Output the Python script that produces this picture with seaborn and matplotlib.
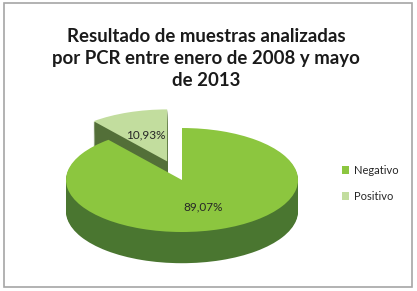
import numpy as np
import seaborn as sns
import matplotlib.pyplot as plt
from matplotlib.patches import Rectangle

# data
categories = ['Negativo', 'Positivo']
values = [89.07, 10.93]
title = 'Resultado de muestras analizadas\npor PCR entre enero de 2008 y mayo\nde 2013'

top_colors = ['#8cc63f', '#c2dd9e']
side_colors = ['#4a7630', '#536f38']

sns.set_theme(style='white')
plt.rcParams['font.family'] = ['Lato', 'DejaVu Sans']

fig = plt.figure(figsize=(4.17, 2.91), dpi=100)
fig.patch.set_facecolor('white')
fig.patches.append(Rectangle((0.01, 0.013), 0.978, 0.975, transform=fig.transFigure,
                             fill=False, edgecolor='#a6a6a6', linewidth=1.2))

ax = fig.add_axes([0.0748, 0.0419, 0.7233, 0.6254])
explode = [0, 0.38]
depth = 0.6
steps = 30

# side of the 3d pie: stacked copies shifted downwards
for k in np.linspace(depth, 0.02, steps):
    ax.pie(values, startangle=90, counterclock=False, explode=explode,
           colors=side_colors, center=(0, -k),
           wedgeprops={'linewidth': 0})

# top surface with labels
wedges, texts, autotexts = ax.pie(
    values, startangle=90, counterclock=False, explode=explode,
    colors=top_colors, autopct=lambda p: f'{p:.2f}%'.replace('.', ','),
    pctdistance=0.55, wedgeprops={'linewidth': 0},
    textprops={'fontsize': 8.5, 'color': '#262626'})

ax.set_aspect('auto')
ax.set_xlim(-1.3, 1.3)
ax.set_ylim(-1.9, 1.6)
ax.axis('off')

fig.text(0.495, 0.80, title, ha='center', va='center', fontsize=13.4,
         fontweight='bold', linespacing=1.35, color='#1a1a1a')

fig.legend(wedges, categories, loc='center left', bbox_to_anchor=(0.795, 0.37),
           frameon=False, fontsize=8, handlelength=0.7, handleheight=0.7,
           handletextpad=0.4, labelspacing=1.3)

fig.savefig('out.png', dpi=100)
